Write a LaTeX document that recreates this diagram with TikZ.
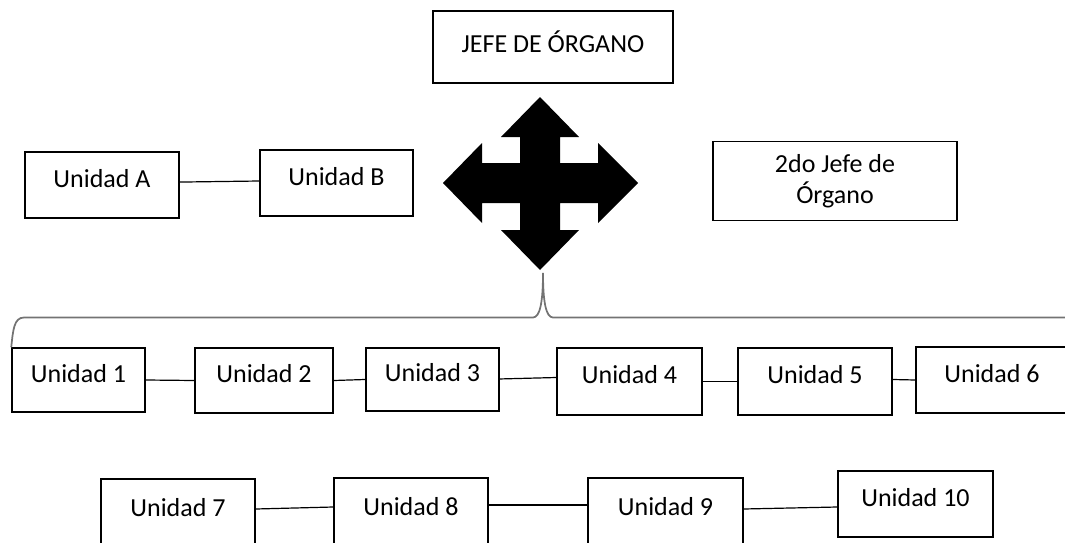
\documentclass[tikz,border=0pt]{standalone}
\usepackage{fontspec}
\setmainfont{Carlito}
\usepackage{tikz}
\tikzset{
    plain-box/.style = {draw=black, line width=1.1pt, rectangle, inner sep=0pt, font=\fontsize{19.5}{23}\selectfont},
    unit-box/.style = {plain-box, text depth=10pt},
    chief-box/.style = {plain-box, align=center},
    link-line/.style = {draw=black, line width=0.9pt},
    brace-line/.style = {draw=black!55, line width=1.3pt},
}

\begin{document}
\begin{tikzpicture}[x=0.75pt, y=-0.75pt]
\useasboundingbox (0,0) rectangle (1065,543);

\node[chief-box, text depth=7.5pt, minimum width=180pt, minimum height=54pt] (jefe) at (553,47) {JEFE DE ÓRGANO};
\node[chief-box, minimum width=183pt, minimum height=59.25pt] (segundo) at (835,181) {2do Jefe de\\Órgano};

\node[unit-box, minimum width=115.5pt, minimum height=49.5pt] (unidad-a) at (102,185) {Unidad A};
\node[unit-box, minimum width=114.75pt, minimum height=49.5pt] (unidad-b) at (336.5,183) {Unidad B};

\fill[black] (540,97) -- (579,137) -- (560,137) -- (560,163) -- (598,163) -- (598,143) -- (638,183)
    -- (598,223) -- (598,203) -- (560,203) -- (560,230) -- (579,230) -- (540,270) -- (501,230)
    -- (520,230) -- (520,203) -- (482,203) -- (482,223) -- (443,183) -- (482,143) -- (482,163)
    -- (520,163) -- (520,137) -- (501,137) -- cycle;

\node[unit-box, minimum width=99.75pt, minimum height=48pt] (unidad-1) at (78.5,380) {Unidad 1};
\node[unit-box, minimum width=103.5pt, minimum height=48.75pt] (unidad-2) at (264,380.5) {Unidad 2};
\node[unit-box, minimum width=99.75pt, minimum height=47.25pt] (unidad-3) at (432.5,379.5) {Unidad 3};
\node[unit-box, minimum width=108.75pt, minimum height=50.25pt] (unidad-4) at (629.5,381.5) {Unidad 4};
\node[unit-box, minimum width=115.5pt, minimum height=50.25pt] (unidad-5) at (815,381.5) {Unidad 5};
\node[unit-box, minimum width=114pt, minimum height=49.5pt] (unidad-6) at (992,380) {Unidad 6};

\node[unit-box, minimum width=115.5pt, minimum height=52.5pt] (unidad-7) at (178,514) {Unidad 7};
\node[unit-box, minimum width=115.5pt, minimum height=52.5pt] (unidad-8) at (411,513) {Unidad 8};
\node[unit-box, minimum width=116.25pt, minimum height=52.5pt] (unidad-9) at (665.5,513) {Unidad 9};
\node[unit-box, minimum width=116.25pt, minimum height=49.5pt] (unidad-10) at (915.5,504) {Unidad 10};

\coordinate (brace-tip) at (543,273);
\draw[brace-line] (unidad-1.north west) .. controls (13,330) and (14,317.5) .. (24,317.5) -- (533,317.5)
    .. controls (540,317.5) and (543,302) .. (brace-tip) .. controls (543,302) and (546,317.5) .. (553,317.5)
    -- (1070,317.5);

\draw[link-line] ([yshift=2.2pt]unidad-a.east) -- ([yshift=1.5pt]unidad-b.west);
\draw[link-line] (unidad-1.east) -- (unidad-2.west);
\draw[link-line] (unidad-2.east) -- (unidad-3.west);
\draw[link-line] ([yshift=0.4pt]unidad-3.east) -- ([yshift=3pt]unidad-4.west);
\draw[link-line] (unidad-4.east) -- (unidad-5.west);
\draw[link-line] ([yshift=1.5pt]unidad-5.east) -- (unidad-6.west);
\draw[link-line] ([yshift=3.75pt]unidad-7.east) -- ([yshift=4.5pt]unidad-8.west);
\draw[link-line] ([yshift=6pt]unidad-8.east) -- ([yshift=6pt]unidad-9.west);
\draw[link-line] ([yshift=3pt]unidad-9.east) -- ([yshift=-2.25pt]unidad-10.west);
\end{tikzpicture}
\end{document}
